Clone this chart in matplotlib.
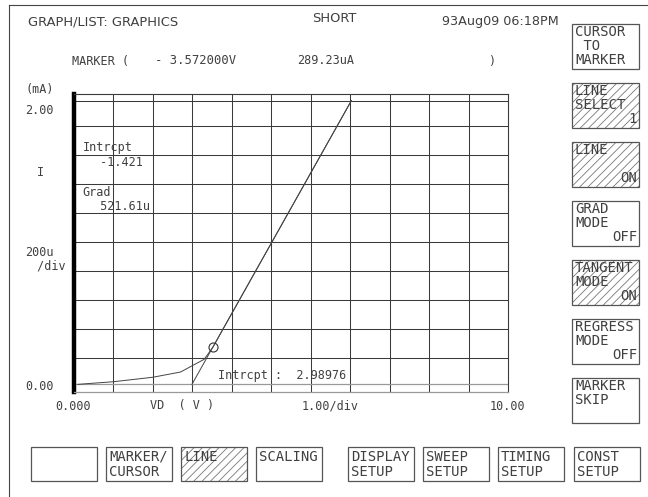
import matplotlib
matplotlib.use("Agg")
import matplotlib.pyplot as plt
from matplotlib.patches import Rectangle
from matplotlib.lines import Line2D

# ---------------- data ----------------
vd_volts = [0.1, 1.0, 2.0, 2.7, 3.3, 3.52, 3.78, 4.15, 4.59, 5.03, 5.5, 6.0, 6.5, 7.03]
id_ma = [0.0, 0.018, 0.049, 0.085, 0.173, 0.256, 0.383, 0.562, 0.776, 0.989, 1.217, 1.460, 1.702, 1.959]
tangent_v = [2.98976, 7.03]
tangent_i = [0.0, 1.959]
marker_v = [3.52]
marker_i = [0.256]

x_ticks = [1, 2, 3, 4, 5, 6, 7, 8, 9, 10]
y_ticks = [0.184, 0.384, 0.584, 0.784, 0.984, 1.184, 1.384, 1.584, 1.784, 1.956]

right_keys = [("CURSOR\n TO\nMARKER", "", False),
              ("LINE\nSELECT", "1", True),
              ("LINE", "ON", True),
              ("GRAD\nMODE", "OFF", False),
              ("TANGENT\nMODE", "ON", True),
              ("REGRESS\nMODE", "OFF", False),
              ("MARKER\nSKIP", "", False)]
bottom_keys = [("", False), ("MARKER/\nCURSOR", False), ("LINE", True), ("SCALING", False),
               ("DISPLAY\nSETUP", False), ("SWEEP\nSETUP", False), ("TIMING\nSETUP", False),
               ("CONST\nSETUP", False)]

# ---------------- layout helpers ----------------
W, H = 648, 497
plt.rcParams['hatch.linewidth'] = 0.6
fig = plt.figure(figsize=(W / 100, H / 100), dpi=100)
fig.patch.set_facecolor('white')

def fx(px):
    return px / W

def fy(py):
    return 1 - py / H

TXT = '#404040'
MONO = 'DejaVu Sans Mono'
SANS = 'DejaVu Sans'

def t(px, py, s, size=8.5, family=MONO, ha='left', va='center', **kw):
    fig.text(fx(px), fy(py), s, fontsize=size, family=family, ha=ha, va=va,
             color=TXT, **kw)

# outer frame lines
fig.add_artist(Line2D([fx(9), fx(648)], [fy(5), fy(5)], color='#444444', lw=0.8))
fig.add_artist(Line2D([fx(9), fx(9)], [fy(5), fy(497)], color='#444444', lw=0.8))

# ---------------- plot ----------------
x0, x1, y0, y1 = 74, 508, 94, 392.3
ax = fig.add_axes([fx(x0), fy(y1), fx(x1) - fx(x0), fy(y0) - fy(y1)])
ax.set_xlim(0, 11.0)
ax.set_ylim(-0.055, 2.005)
ax.set_xticks(x_ticks)
ax.set_yticks(y_ticks)
ax.tick_params(left=False, bottom=False, labelleft=False, labelbottom=False)
ax.grid(True, color='#3a3a3a', lw=0.75)
ax.axhline(0, color='#999999', lw=0.9)
for side in ['top', 'right']:
    ax.spines[side].set_color('#3a3a3a')
    ax.spines[side].set_linewidth(0.8)
ax.spines['bottom'].set_color('#999999')
ax.spines['bottom'].set_linewidth(0.9)
ax.spines['left'].set_color('black')
ax.spines['left'].set_linewidth(3.2)

ax.plot(vd_volts, id_ma, color='#444444', lw=0.7, clip_on=False)
ax.plot(tangent_v, tangent_i, color='#444444', lw=0.7)
ax.plot(marker_v, marker_i, 'o', mfc='none', mec='#333333', ms=6.5, mew=0.8)

# texts inside plot
t(83, 148, "Intrcpt")
t(93, 163, " -1.421")
t(82, 193, "Grad")
t(93, 207, " 521.61u")
t(218, 375, "Intrcpt :  2.98976")

# axis annotations
t(25, 89, "(mA)")
t(25, 110, "2.00")
t(37, 173, "I")
t(25, 252, "200u")
t(30, 266, " /div")
t(25, 386, "0.00")
t(55, 406, "0.000")
t(150, 406, "VD  ( V )")
t(302, 406, "1.00/div")
t(490, 406, "10.00")

# header
t(28, 22, "GRAPH/LIST: GRAPHICS", size=9.4, family=SANS)
t(312, 19, "SHORT", size=9.4, family=SANS)
t(442, 22, "93Aug09 06:18PM", size=9.2, family=SANS)
t(72, 61, "MARKER (", size=8.5)
t(155, 61, "- 3.572000V", size=8.8)
t(297, 61, "289.23uA", size=8.5)
t(488, 61, ")", size=8.5)

# ---------------- softkeys ----------------
def key(left, top, w, h, hatched):
    if hatched:
        fig.add_artist(Rectangle((fx(left), fy(top + h)), fx(w), h / H, fill=False,
                                 hatch='////', edgecolor='#777777', lw=0,
                                 transform=fig.transFigure))
    fig.add_artist(Rectangle((fx(left), fy(top + h)), fx(w), h / H, fill=False,
                             edgecolor='#555555', lw=0.9, transform=fig.transFigure))

KS = 10.0
for i, (lbl, val, hat) in enumerate(right_keys):
    top = 24 + 59 * i
    key(572, top, 67, 45, hat)
    for j, line in enumerate(lbl.split("\n")):
        t(575, top + 8 + 14 * j, line, size=KS)
    if val:
        t(637, top + 36, val, size=KS, ha='right')

for i, (lbl, hat) in enumerate(bottom_keys):
    left = [31, 106, 181, 256, 348, 423, 498, 574][i]
    key(left, 447, 66, 34, hat)
    for j, line in enumerate(lbl.split("\n")):
        t(left + 3, 457 + 15 * j, line, size=KS)

fig.savefig("out.png", dpi=100, facecolor='white')
